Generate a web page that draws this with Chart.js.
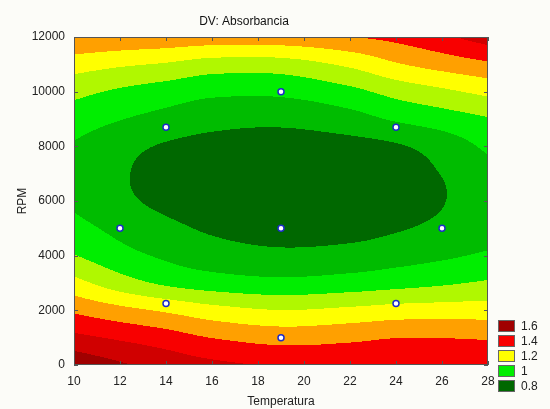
<!DOCTYPE html>
<html>
<head>
<meta charset="utf-8">
<script src="https://cdn.jsdelivr.net/npm/chart.js@4.4.0/dist/chart.umd.min.js"></script>
<style>
  body { margin: 0; background: #fcfcf8; }
  canvas { display: block; }
</style>
</head>
<body>
<canvas id="chart" width="550" height="409"></canvas>
<script>
// surface grid: temperature columns, rpm rows
const temperatures = [10, 12, 14, 16, 19, 22, 24, 26, 28];
const rpms = [0, 1000, 2000, 3000, 4000, 5000, 6000, 7000, 8000, 9000, 10000, 11000, 12000];

// absorbance per temperature, from 0 rpm up to 12000 rpm
const abs10 = [1.58, 1.426, 1.283, 1.133, 1.005, 0.934, 0.882, 0.870, 0.891, 0.951, 1.028, 1.147, 1.30];
const abs12 = [1.516, 1.385, 1.231, 1.046, 0.936, 0.873, 0.822, 0.811, 0.832, 0.904, 0.985, 1.115, 1.289];
const abs14 = [1.465, 1.346, 1.186, 0.983, 0.884, 0.825, 0.776, 0.767, 0.790, 0.868, 0.953, 1.090, 1.28];
const abs16 = [1.426, 1.298, 1.138, 0.949, 0.848, 0.786, 0.745, 0.741, 0.768, 0.835, 0.923, 1.055, 1.266];
const abs19 = [1.39, 1.262, 1.102, 0.927, 0.824, 0.757, 0.724, 0.724, 0.755, 0.825, 0.922, 1.055, 1.267];
const abs22 = [1.385, 1.278, 1.122, 0.945, 0.838, 0.765, 0.734, 0.735, 0.767, 0.862, 0.973, 1.120, 1.298];
const abs24 = [1.39, 1.298, 1.142, 0.965, 0.861, 0.791, 0.758, 0.758, 0.789, 0.913, 1.035, 1.190, 1.33];
const abs26 = [1.39, 1.298, 1.149, 0.987, 0.885, 0.822, 0.796, 0.803, 0.843, 0.952, 1.080, 1.240, 1.382];
const abs28 = [1.39, 1.29, 1.151, 1.013, 0.914, 0.862, 0.848, 0.866, 0.919, 0.993, 1.126, 1.283, 1.45];
const absorbance = [abs10, abs12, abs14, abs16, abs19, abs22, abs24, abs26, abs28];

// experimental runs
const pointTemps = [19, 14, 24, 12, 19, 26, 14, 24, 19];
const pointRpms = [10000, 8700, 8700, 5000, 5000, 5000, 2250, 2250, 1000];

// contour levels (upper bounds) and legend entries
const levels = [0.8, 0.9, 1.0, 1.1, 1.2, 1.3, 1.4, 1.5, 1.6];
const legendLevels = [1.6, 1.4, 1.2, 1, 0.8];

const xTickValues = [10, 12, 14, 16, 18, 20, 22, 24, 26, 28];
const yTickValues = [0, 2000, 4000, 6000, 8000, 10000, 12000];

const bandColors = ['#006800', '#00bc00', '#00ee00', '#b0f800', '#ffff00', '#ffa000', '#f80000', '#d00000', '#a00000', '#800000'];
const FONT = "'Liberation Sans', Arial, sans-serif";

function hexToRgb(h) {
    return [parseInt(h.slice(1, 3), 16), parseInt(h.slice(3, 5), 16), parseInt(h.slice(5, 7), 16)];
}
const bandRgb = bandColors.map(hexToRgb);

// smooth (cubic Hermite) reading between grid nodes
function hermite(xs, fs, t) {
    const n = xs.length;
    let i = 0;
    while (i < n - 2 && t > xs[i + 1]) i++;
    const slope = k => {
        if (k === 0) return (fs[1] - fs[0]) / (xs[1] - xs[0]);
        if (k === n - 1) return (fs[n - 1] - fs[n - 2]) / (xs[n - 1] - xs[n - 2]);
        return (fs[k + 1] - fs[k - 1]) / (xs[k + 1] - xs[k - 1]);
    };
    const h = xs[i + 1] - xs[i];
    const s = (t - xs[i]) / h;
    const s2 = s * s, s3 = s2 * s;
    return (2 * s3 - 3 * s2 + 1) * fs[i] + (s3 - 2 * s2 + s) * h * slope(i)
        + (-2 * s3 + 3 * s2) * fs[i + 1] + (s3 - s2) * h * slope(i + 1);
}

function bandIndex(z) {
    let k = 0;
    while (k < levels.length && z > levels[k] + 1e-9) k++;
    return k;
}

const contourPlugin = {
    id: 'contour',
    beforeDatasetsDraw(chart) {
        const { ctx, chartArea: a, scales: { x, y } } = chart;
        const w = Math.round(a.right - a.left), h = Math.round(a.bottom - a.top);

        // fill every pixel of the plot with its band colour
        const off = document.createElement('canvas');
        off.width = w;
        off.height = h;
        const octx = off.getContext('2d');
        const img = octx.createImageData(w, h);
        for (let py = 0; py < h; py++) {
            const r = y.getValueForPixel(a.top + py + 0.5);
            const column = absorbance.map(col => hermite(rpms, col, r));
            for (let px = 0; px < w; px++) {
                const t = x.getValueForPixel(a.left + px + 0.5);
                const c = bandRgb[bandIndex(hermite(temperatures, column, t))];
                const o = (py * w + px) * 4;
                img.data[o] = c[0];
                img.data[o + 1] = c[1];
                img.data[o + 2] = c[2];
                img.data[o + 3] = 255;
            }
        }
        octx.putImageData(img, 0, 0);
        ctx.drawImage(off, a.left, a.top, w, h);

        // frame with inward tick marks
        ctx.save();
        ctx.strokeStyle = '#555';
        ctx.lineWidth = 1;
        ctx.strokeRect(a.left + 0.5, a.top + 0.5, w - 1, h - 1);
        ctx.beginPath();
        xTickValues.forEach(v => {
            const px = Math.round(x.getPixelForValue(v)) + 0.5;
            ctx.moveTo(px, a.top); ctx.lineTo(px, a.top + 4);
            ctx.moveTo(px, a.bottom); ctx.lineTo(px, a.bottom - 4);
        });
        yTickValues.forEach(v => {
            const py = Math.round(y.getPixelForValue(v)) + 0.5;
            ctx.moveTo(a.left, py); ctx.lineTo(a.left + 4, py);
            ctx.moveTo(a.right, py); ctx.lineTo(a.right - 4, py);
        });
        ctx.stroke();
        ctx.restore();
    },
    afterDraw(chart) {
        // level legend at bottom right
        const { ctx, chartArea: a } = chart;
        ctx.save();
        ctx.font = '12px ' + FONT;
        ctx.textBaseline = 'middle';
        ctx.textAlign = 'left';
        legendLevels.forEach((lv, i) => {
            const bx = a.right + 10, by = 320 + i * 15;
            ctx.fillStyle = bandColors[levels.indexOf(lv)];
            ctx.fillRect(bx, by, 17, 12);
            ctx.strokeStyle = '#666';
            ctx.strokeRect(bx + 0.5, by + 0.5, 16, 11);
            ctx.fillStyle = '#222';
            ctx.fillText(String(lv), bx + 23, by + 6.5);
        });
        ctx.restore();
    }
};

Chart.defaults.font.family = FONT;
Chart.defaults.font.size = 12;
Chart.defaults.color = '#222';

new Chart(document.getElementById('chart'), {
    type: 'scatter',
    data: {
        datasets: [{
            data: pointTemps.map((t, i) => ({ x: t, y: pointRpms[i] })),
            pointRadius: 3,
            pointBorderWidth: 1.5,
            borderColor: '#1c2cc8',
            backgroundColor: '#ffffff'
        }]
    },
    options: {
        responsive: false,
        animation: false,
        devicePixelRatio: 1,
        layout: { padding: { left: 0, right: 62, top: 0, bottom: 0 } },
        plugins: {
            legend: { display: false },
            tooltip: { enabled: false },
            title: {
                display: true,
                text: 'DV: Absorbancia',
                font: { size: 12, weight: 'normal' },
                color: '#111',
                padding: { top: 14, bottom: 8.6 }
            }
        },
        scales: {
            x: {
                type: 'linear',
                min: 10,
                max: 28,
                afterBuildTicks: s => { s.ticks = xTickValues.map(v => ({ value: v })); },
                ticks: { padding: 9, maxRotation: 0, autoSkip: false },
                grid: { display: false, drawTicks: false },
                border: { display: false },
                title: { display: true, text: 'Temperatura', padding: { top: 2, bottom: 0 } },
                afterFit: s => { s.height = 44; }
            },
            y: {
                type: 'linear',
                min: 0,
                max: 12000,
                afterBuildTicks: s => { s.ticks = yTickValues.map(v => ({ value: v })); },
                ticks: { padding: 9, callback: v => String(v) },
                grid: { display: false, drawTicks: false },
                border: { display: false },
                title: { display: true, text: 'RPM', padding: { top: 15, bottom: 0 } },
                afterFit: s => { s.width = 74; }
            }
        }
    },
    plugins: [contourPlugin]
});
</script>
</body>
</html>
